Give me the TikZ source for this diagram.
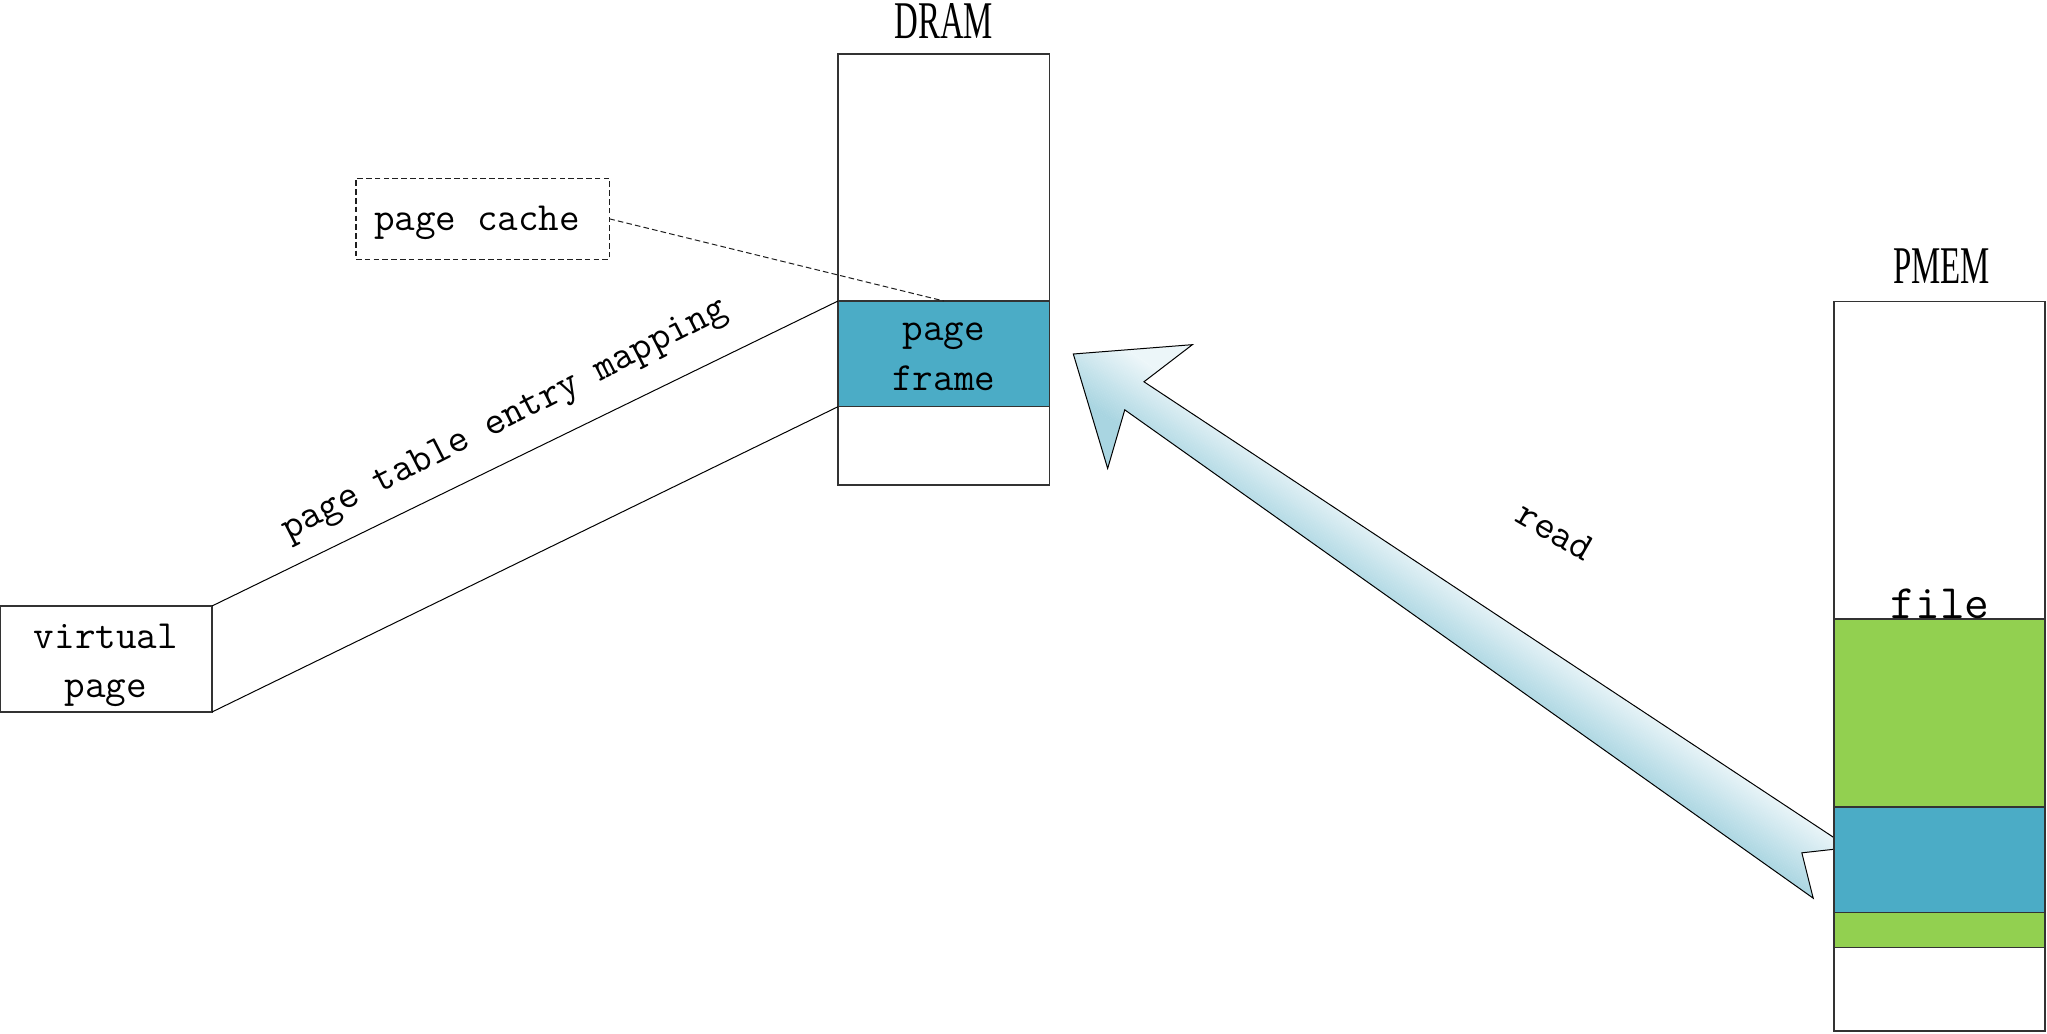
\documentclass[tikz,border=0pt]{standalone}
\usepackage{fontspec}
\newfontfamily\labelserif{Liberation Serif}
\begin{document}
\begin{tikzpicture}[x=0.5pt,y=-0.5pt,
  box/.style={draw=black!80, line width=0.6pt, inner sep=0pt, outer sep=0pt, anchor=north west},
  mono/.style={font=\ttfamily\fontsize{20}{25}\selectfont, inner sep=0pt},
  title/.style={font=\labelserif\fontsize{26.5}{30}\selectfont, inner sep=0pt, anchor=base},
  link/.style={draw=black, line width=0.5pt},
  notedash/.style={dash pattern=on 2.8pt off 1.6pt},
]
\definecolor{frameblue}{HTML}{4BACC6}
\definecolor{filegreen}{HTML}{92D050}
\definecolor{arrowlight}{HTML}{ECF6F9}
\definecolor{arrowdark}{HTML}{A9D5E1}
\useasboundingbox (0,0) rectangle (2047,1034);

% ---- read arrow (drawn first, its tail goes under the PMEM column)
\begin{scope}[shift={(1073.3,354)}, rotate=-34.4]
  \begin{scope}
    \clip (0,0) -- (93,-75) -- (74,-17) -- (919,-31) -- (883,0) -- (918,31)
          -- (74,17) -- (93,75) -- cycle;
    \fill[arrowlight] (-5,-90) rectangle (930,-34);
    \fill[arrowdark] (-5,34) rectangle (930,90);
    \foreach \k in {0,...,33} {
      \pgfmathtruncatemacro\p{round(100*\k/33)}
      \fill[arrowdark!\p!arrowlight] (-5,-34+2*\k) rectangle (930,-34+2*\k+2.3);
    }
  \end{scope}
  \draw[line width=0.5pt, line join=miter]
    (0,0) -- (93,-75) -- (74,-17) -- (919,-31) -- (883,0) -- (918,31)
    -- (74,17) -- (93,75) -- cycle;
\end{scope}
\node[mono, rotate=-30] (readlbl) at (1555,531) {read};

% ---- DRAM column
\node[title] (dramlbl) at (943.8,38.5) {\scalebox{0.62}[1]{DRAM}};
\node[box, fill=white, minimum width=105.85pt, minimum height=215.5pt] (dram) at (838,54) {};
\node[box, fill=frameblue, minimum width=105.85pt, minimum height=52.85pt] (pf) at (838,301) {};
\node[mono, anchor=base] (pf1) at (943.8,340) {page};
\node[mono, anchor=base] (pf2) at (943.8,390) {frame};

% ---- page cache note
\node[box, draw=black!88, notedash, minimum width=126.65pt, minimum height=40.5pt] (pc) at (356,178.3) {};
\node[mono, anchor=base] (pclbl) at (477,230.7) {page cache};
\draw[link, draw=black!88, notedash] (pc.east) -- (pf.north);

% ---- virtual page and mapping
\node[box, minimum width=105.75pt, minimum height=53pt] (vp) at (0.5,606) {};
\node[mono, anchor=base] (vp1) at (106,648) {virtual};
\node[mono, anchor=base] (vp2) at (106,697) {page};
\draw[link] (vp.north east) -- (pf.north west);
\draw[link] (vp.south east) -- (pf.south west);
\node[mono, rotate=27] (ptelbl) at (505,421) {page table entry mapping};

% ---- PMEM column
\node[title] (pmemlbl) at (1941.7,283.3) {\scalebox{0.62}[1]{PMEM}};
\node[box, fill=white, minimum width=105.5pt, minimum height=364.75pt] (pmem) at (1834,301.5) {};
\node[box, fill=filegreen, minimum width=105.5pt, minimum height=94pt] (fileA) at (1834,619) {};
\node[box, fill=frameblue, minimum width=105.5pt, minimum height=52.75pt] (fpage) at (1834,807) {};
\node[box, fill=filegreen, minimum width=105.5pt, minimum height=17.5pt] (fileB) at (1834,912.5) {};
\node[font=\ttfamily\fontsize{24}{28}\selectfont, inner sep=0pt, anchor=base] (filelbl) at (1940,618) {file};
\end{tikzpicture}
\end{document}
